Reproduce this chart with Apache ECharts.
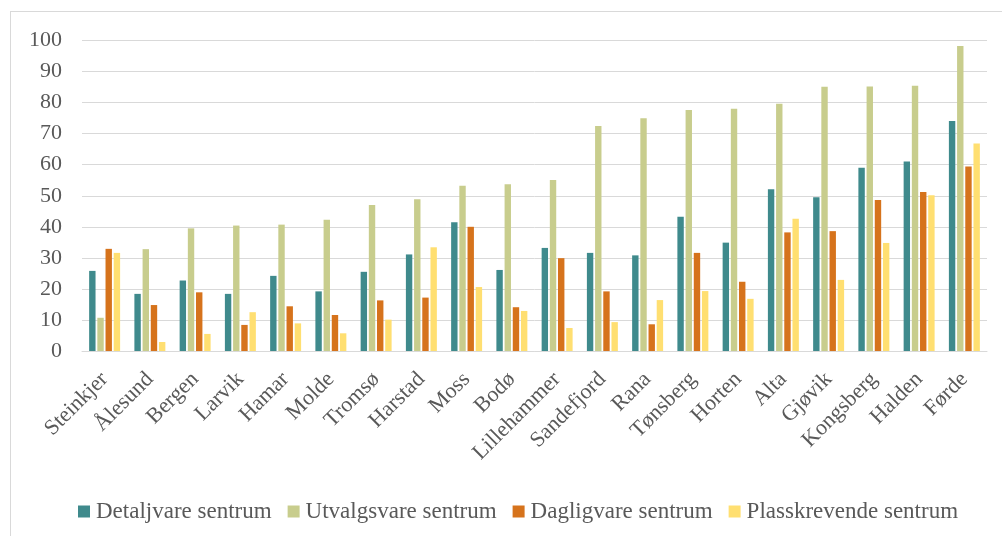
<!DOCTYPE html>
<html>
<head>
<meta charset="utf-8">
<script src="https://cdn.jsdelivr.net/npm/echarts@6/dist/echarts.min.js"></script>
<style>
  html, body { margin: 0; padding: 0; background: #fff; }
  #frame { position: absolute; left: 10px; top: 11px; width: 1100px; height: 600px;
           border-left: 1px solid #d9d9d9; border-top: 1px solid #d9d9d9; }
  #main { position: absolute; left: 0; top: 0; width: 1002px; height: 536px; }
</style>
</head>
<body>
<div id="frame"></div>
<div id="main"></div>
<script>
// byer (kategorier)
var byer = ["Steinkjer", "Ålesund", "Bergen", "Larvik", "Hamar", "Molde", "Tromsø", "Harstad", "Moss", "Bodø",
  "Lillehammer", "Sandefjord", "Rana", "Tønsberg", "Horten", "Alta", "Gjøvik", "Kongsberg", "Halden", "Førde"];

// verdier per serie
var detaljvare = [25.8, 18.4, 22.7, 18.4, 24.2, 19.2, 25.5, 31.1, 41.5, 26.1,
  33.2, 31.6, 30.8, 43.2, 34.9, 52.1, 49.5, 59.0, 61.0, 74.1];
var utvalgsvare = [10.7, 32.8, 39.5, 40.4, 40.7, 42.3, 47.0, 48.9, 53.2, 53.7,
  55.1, 72.5, 75.0, 77.6, 78.0, 79.6, 85.1, 85.2, 85.4, 98.2];
var dagligvare = [32.9, 14.8, 18.9, 8.4, 14.4, 11.6, 16.3, 17.2, 40.0, 14.1,
  29.9, 19.2, 8.6, 31.6, 22.3, 38.2, 38.6, 48.6, 51.2, 59.4];
var plasskrevende = [31.6, 2.9, 5.5, 12.5, 8.9, 5.7, 10.1, 33.4, 20.6, 12.9,
  7.4, 9.3, 16.4, 19.3, 16.8, 42.6, 22.9, 34.8, 50.2, 66.8];

var serieNavn = ["Detaljvare sentrum", "Utvalgsvare sentrum", "Dagligvare sentrum", "Plasskrevende sentrum"];
var farger = ["#3f8a8c", "#c8cd8d", "#d6731c", "#ffdf71"];

var font = "'Liberation Serif', 'DejaVu Serif', serif";
var myChart = echarts.init(document.getElementById("main"));

function lagSerie(navn, data) {
  return {
    name: navn,
    type: "bar",
    barWidth: 6.4,
    barGap: "28%",
    data: data
  };
}

var option = {
  color: farger,
  animation: false,
  grid: { left: 82, right: 15, top: 40.5, bottom: 185 },
  legend: {
    left: 73,
    top: 495,
    itemWidth: 12,
    itemHeight: 12,
    itemGap: 16,
    icon: "rect",
    textStyle: { fontFamily: font, fontSize: 23, color: "#595959", padding: [0, 0, 0, 1] },
    data: serieNavn
  },
  xAxis: {
    type: "category",
    data: byer,
    axisTick: { show: false },
    axisLine: { lineStyle: { color: "#d9d9d9", width: 1 } },
    axisLabel: { rotate: 45, interval: 0, margin: 25, fontFamily: font, fontSize: 22, color: "#595959" }
  },
  yAxis: {
    type: "value",
    min: 0,
    max: 100,
    interval: 10,
    axisLine: { show: false },
    axisTick: { show: false },
    splitLine: { lineStyle: { color: "#d9d9d9", width: 1 } },
    axisLabel: { margin: 20, fontFamily: font, fontSize: 22, color: "#595959" }
  },
  series: [
    lagSerie(serieNavn[0], detaljvare),
    lagSerie(serieNavn[1], utvalgsvare),
    lagSerie(serieNavn[2], dagligvare),
    lagSerie(serieNavn[3], plasskrevende)
  ]
};
myChart.setOption(option);
</script>
</body>
</html>
